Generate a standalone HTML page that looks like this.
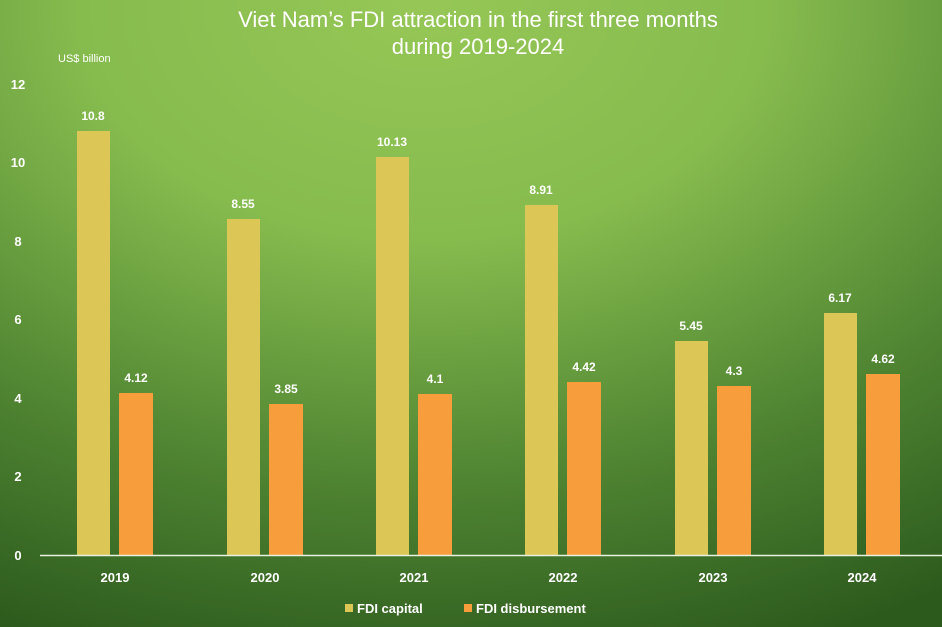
<!DOCTYPE html>
<html><head><meta charset="utf-8"><style>
html,body{margin:0;padding:0;width:942px;height:627px;overflow:hidden}
svg{display:block;font-family:"Liberation Sans",sans-serif}
</style></head><body>
<svg width="942" height="627" viewBox="0 0 942 627">
<defs>
<radialGradient id="bg" cx="0.45" cy="0.05" r="1.05" fx="0.45" fy="0.0">
<stop offset="0" stop-color="#96c756"/>
<stop offset="0.35" stop-color="#86bb4e"/>
<stop offset="0.7" stop-color="#4f8432"/>
<stop offset="1" stop-color="#2c5a1d"/>
</radialGradient>
</defs>
<rect width="942" height="627" fill="url(#bg)"/>
<g fill="#fff" text-anchor="middle" font-size="22">
<text x="478" y="27">Viet Nam’s FDI attraction in the first three months</text>
<text x="478" y="54">during 2019-2024</text>
</g>
<text x="58" y="62" fill="#fff" font-size="11">US$ billion</text>
<g fill="#fff" font-size="13" font-weight="bold" text-anchor="middle">
<text x="18" y="560">0</text><text x="18" y="481">2</text><text x="18" y="403">4</text>
<text x="18" y="324">6</text><text x="18" y="246">8</text><text x="18" y="167">10</text><text x="18" y="89">12</text>
</g>
<g id="bars" font-size="12" font-weight="bold" fill="#fff" text-anchor="middle">
<rect x="77" y="131" width="33" height="424" fill="#dcc655"/>
<rect x="119" y="393" width="34" height="162" fill="#f89d3c"/>
<text x="93" y="120">10.8</text><text x="136" y="382">4.12</text>
<rect x="227" y="219" width="33" height="336" fill="#dcc655"/>
<rect x="269" y="404" width="34" height="151" fill="#f89d3c"/>
<text x="243" y="208">8.55</text><text x="286" y="393">3.85</text>
<rect x="376" y="157" width="33" height="398" fill="#dcc655"/>
<rect x="418" y="394" width="34" height="161" fill="#f89d3c"/>
<text x="392" y="146">10.13</text><text x="435" y="383">4.1</text>
<rect x="525" y="205" width="33" height="350" fill="#dcc655"/>
<rect x="567" y="382" width="34" height="173" fill="#f89d3c"/>
<text x="541" y="194">8.91</text><text x="584" y="371">4.42</text>
<rect x="675" y="341" width="33" height="214" fill="#dcc655"/>
<rect x="717" y="386" width="34" height="169" fill="#f89d3c"/>
<text x="691" y="330">5.45</text><text x="734" y="375">4.3</text>
<rect x="824" y="313" width="33" height="242" fill="#dcc655"/>
<rect x="866" y="374" width="34" height="181" fill="#f89d3c"/>
<text x="840" y="302">6.17</text><text x="883" y="363">4.62</text>
</g>
<line x1="40" y1="555.5" x2="942" y2="555.5" stroke="#e8f0e0" stroke-width="1.5"/>
<g fill="#fff" font-size="13" font-weight="bold" text-anchor="middle">
<text x="115" y="582">2019</text><text x="265" y="582">2020</text><text x="414" y="582">2021</text>
<text x="563" y="582">2022</text><text x="713" y="582">2023</text><text x="862" y="582">2024</text>
</g>
<rect x="345" y="604" width="8" height="8" fill="#dcc655"/>
<text x="357" y="613" fill="#fff" font-size="13" font-weight="bold">FDI capital</text>
<rect x="464" y="604" width="8" height="8" fill="#f89d3c"/>
<text x="476" y="613" fill="#fff" font-size="13" font-weight="bold">FDI disbursement</text>
</svg>
</body></html>
